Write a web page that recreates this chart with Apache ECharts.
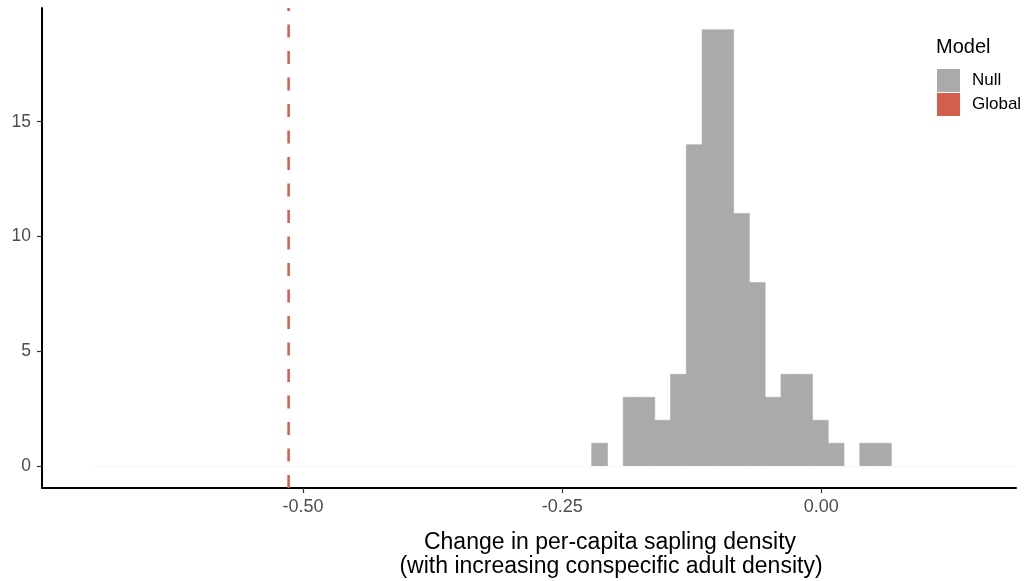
<!DOCTYPE html>
<html>
<head>
<meta charset="utf-8">
<script src="https://cdn.jsdelivr.net/npm/echarts@6/dist/echarts.min.js"></script>
<style>
html,body{margin:0;padding:0;background:#fff;}
#chart{width:1024px;height:581px;}
</style>
</head>
<body>
<div id="chart"></div>
<script>
// ---- data ----
const binStart = -0.2215;          // left edge of first bin
const binWidth = 0.01522;          // bin width
const nullCounts = [1, 0, 3, 3, 2, 4, 14, 19, 19, 11, 8, 3, 4, 4, 2, 1, 0, 1, 1];
const globalValue = -0.514;
const xTickValues = [-0.50, -0.25, 0.00];
const yTickValues = [0, 5, 10, 15];
const seriesNames = ['Null', 'Global'];
const legendTitle = 'Model';
const xTitle = ['Change in per-capita sapling density', '(with increasing conspecific adult density)'];

const histData = nullCounts.map((c, i) => [binStart + i * binWidth, binStart + (i + 1) * binWidth, c]);

const FONT = '"Liberation Sans", Arial, sans-serif';
const chart = echarts.init(document.getElementById('chart'), null, {renderer: 'canvas'});

chart.setOption({
  animation: false,
  backgroundColor: '#ffffff',
  textStyle: {fontFamily: FONT},
  grid: {left: 42, right: 8, top: 8, bottom: 93, containLabel: false},
  xAxis: {
    type: 'value', min: -0.752, max: 0.188,
    splitLine: {show: false},
    axisLine: {show: true, onZero: false, lineStyle: {color: '#000', width: 2}},
    axisTick: {show: true, customValues: xTickValues, length: 5, lineStyle: {color: '#333', width: 1.2}},
    axisLabel: {show: true, customValues: xTickValues, margin: 10, color: '#4d4d4d', fontSize: 18, fontFamily: FONT,
      formatter: v => v.toFixed(2)}
  },
  yAxis: {
    type: 'value', min: -0.95, max: 19.95,
    splitLine: {show: false},
    axisLine: {show: true, onZero: false, lineStyle: {color: '#000', width: 2}},
    axisTick: {show: true, customValues: yTickValues, length: 5, lineStyle: {color: '#333', width: 1.2}},
    axisLabel: {show: true, customValues: yTickValues, margin: 11, color: '#4d4d4d', fontSize: 17.5, fontFamily: FONT}
  },
  legend: {
    orient: 'vertical', left: 937, top: 69, padding: 0,
    itemWidth: 23, itemHeight: 23, itemGap: 1,
    icon: 'rect',
    data: seriesNames,
    textStyle: {fontSize: 17, color: '#000', fontFamily: FONT, padding: [0, 0, 0, 7]}
  },
  graphic: [
    {type: 'text', left: 936, top: 37, style: {text: legendTitle, font: '20px ' + FONT, fill: '#000'}},
    {type: 'text', x: 610, y: 543, style: {text: xTitle[0], font: '23px ' + FONT, fill: '#000',
      textAlign: 'center', textVerticalAlign: 'middle'}},
    {type: 'text', x: 611, y: 567, style: {text: xTitle[1], font: '23px ' + FONT, fill: '#000',
      textAlign: 'center', textVerticalAlign: 'middle'}}
  ],
  series: [
    {
      name: seriesNames[0], type: 'custom',
      itemStyle: {color: '#aaaaaa'},
      data: histData,
      renderItem: function (params, api) {
        const c = api.value(2);
        if (!c) return null;
        const p0 = api.coord([api.value(0), c]);
        const p1 = api.coord([api.value(1), 0]);
        return {type: 'rect', shape: {x: p0[0], y: p0[1], width: p1[0] - p0[0], height: p1[1] - p0[1]},
          style: {fill: '#aaaaaa', stroke: '#aaaaaa', lineWidth: 0.6}};
      },
      markLine: {
        silent: true, symbol: 'none', label: {show: false},
        lineStyle: {color: '#f6f6f6', width: 1, type: 'solid'},
        data: [[{coord: [-0.704, 0]}, {coord: [0.188, 0]}]]
      },
      z: 2
    },
    {
      name: seriesNames[1], type: 'custom',
      itemStyle: {color: '#d35e4a'},
      data: [[globalValue]],
      renderItem: function (params, api) {
        const cs = params.coordSys;
        const x = api.coord([api.value(0), 0])[0];
        return {type: 'line', shape: {x1: x, y1: cs.y, x2: x, y2: cs.y + cs.height},
          style: {stroke: '#d35e4a', lineWidth: 2.5, lineDash: [13, 13.5], lineDashOffset: 10}};
      },
      z: 3
    }
  ]
});
</script>
</body>
</html>
